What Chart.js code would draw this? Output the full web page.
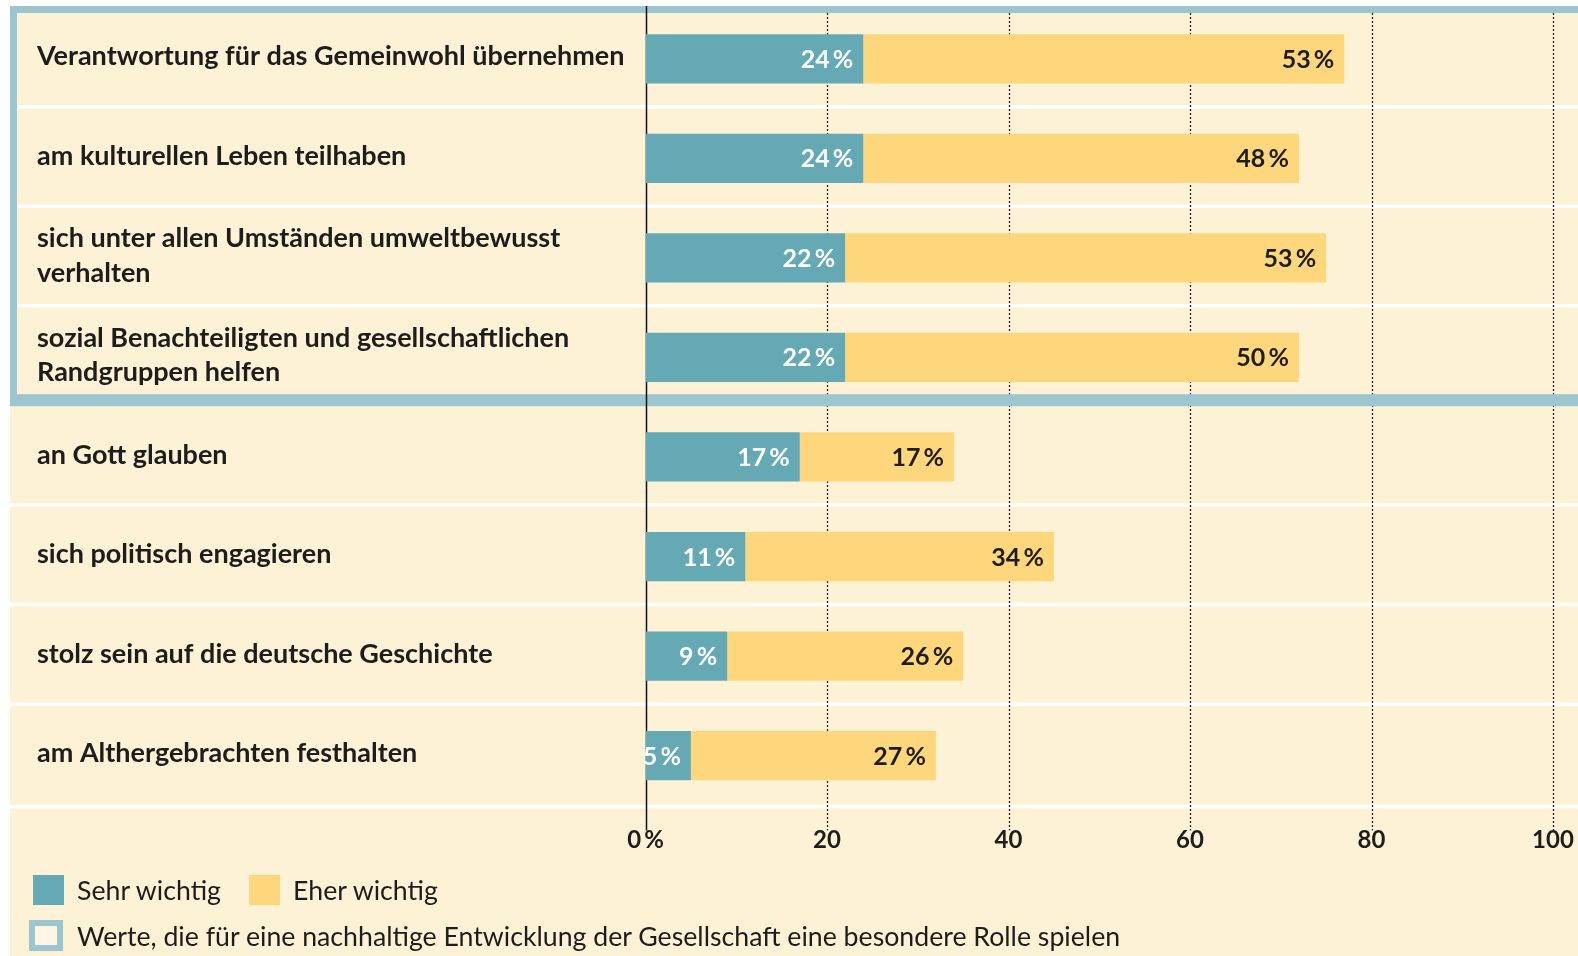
<!DOCTYPE html>
<html lang="de">
<head>
<meta charset="utf-8">
<title>Werte</title>
<script src="https://cdn.jsdelivr.net/npm/chart.js@4.4.1/dist/chart.umd.min.js"></script>
<style>
  html, body { margin: 0; padding: 0; background: #fff; }
  #wrap { position: relative; width: 1578px; height: 956px; overflow: hidden; }
  #chart { position: absolute; left: 0; top: 0; }
  .legend { position: absolute; left: 0; top: 0; font-family: Lato, sans-serif; font-size: 26.7px; color: #1d1d1b; }
  .item { position: absolute; display: flex; align-items: center; white-space: nowrap; }
  .sw { display: inline-block; width: 31px; height: 30px; margin-right: 13px; box-sizing: border-box; }
</style>
</head>
<body>
<div id="wrap">
  <canvas id="chart" width="1578" height="956"></canvas>
  <div class="legend">
    <div class="item" style="left:33px; top:875px; height:30px;"><span class="sw" style="background:#64a9b4"></span>Sehr wichtig</div>
    <div class="item" style="left:249px; top:875px; height:30px;"><span class="sw" style="background:#fed77c"></span>Eher wichtig</div>
    <div class="item" style="left:29px; top:920px; height:31px;"><span class="sw" style="width:34px; height:31px; border:6px solid #9cc6cf; background:#fdf5e3; margin-right:14px;"></span>Werte, die für eine nachhaltige Entwicklung der Gesellschaft eine besondere Rolle spielen</div>
  </div>
</div>
<script>
/* ─── Data ─────────────────────────────────────────────────────────────── */
const categories = [
  'Verantwortung für das Gemeinwohl übernehmen',
  'am kulturellen Leben teilhaben',
  ['sich unter allen Umständen umweltbewusst', 'verhalten'],
  ['sozial Benachteiligten und gesellschaftlichen', 'Randgruppen helfen'],
  'an Gott glauben',
  'sich politisch engagieren',
  'stolz sein auf die deutsche Geschichte',
  'am Althergebrachten festhalten'
];
const sehrWichtig = [24, 24, 22, 22, 17, 11, 9, 5];
const eherWichtig = [53, 48, 53, 50, 17, 34, 26, 27];
const xTicks      = [0, 20, 40, 60, 80, 100];
const framedRows  = 4;   // the first rows sit inside the blue frame

/* ─── Colours ──────────────────────────────────────────────────────────── */
const BLUE   = '#64a9b4';
const YELLOW = '#fed77c';
const CREAM  = '#fdf1d6';
const FRAME  = '#9cc6cf';
const INK    = '#1d1d1b';

Chart.defaults.font.family = 'Lato, sans-serif';

/* ── row backgrounds, separators, blue frame ── */
const backdrop = {
  id: 'backdrop',
  beforeDraw(chart) {
    const { ctx, chartArea: a, scales: { y } } = chart;
    const W = chart.width, H = chart.height;
    ctx.save();
    ctx.fillStyle = '#fff';
    ctx.fillRect(0, 0, W, H);
    ctx.fillStyle = CREAM;
    ctx.fillRect(10, a.top - 3, W - 10, H);

    // white separators between rows
    ctx.fillStyle = '#fff';
    const n = categories.length;
    for (let i = 0; i < n; i++) {
      if (i === framedRows - 1) continue;
      const yb = i === n - 1
        ? a.bottom + 1
        : (y.getPixelForValue(i) + y.getPixelForValue(i + 1)) / 2 - 2;
      ctx.fillRect(10, yb - 1.5, W - 10, 3.5);
    }
    ctx.restore();
  },
  beforeDatasetsDraw(chart) {
    const { ctx, chartArea: a, scales: { x, y } } = chart;
    const W = chart.width;
    ctx.save();

    // dotted grid
    ctx.strokeStyle = '#222';
    ctx.lineWidth = 1.3;
    ctx.setLineDash([2, 2]);
    xTicks.forEach(v => {
      if (v === 0) return;
      const px = Math.round(x.getPixelForValue(v)) + 0.5;
      ctx.beginPath();
      ctx.moveTo(px, a.top + 4);
      ctx.lineTo(px, a.bottom + 25);
      ctx.stroke();
    });
    ctx.setLineDash([]);

    // blue frame round the highlighted rows
    const split = (y.getPixelForValue(framedRows - 1) + y.getPixelForValue(framedRows)) / 2;
    ctx.fillStyle = FRAME;
    ctx.fillRect(10, a.top - 3, W - 10, 7);
    ctx.fillRect(10, a.top - 3, 7, split - a.top);
    ctx.fillRect(10, split - 13, W - 10, 12);

    // solid zero line
    const x0 = Math.round(x.getPixelForValue(0)) + 0.5;
    ctx.strokeStyle = '#111';
    ctx.lineWidth = 1.5;
    ctx.beginPath();
    ctx.moveTo(x0, a.top - 3);
    ctx.lineTo(x0, a.bottom + 25);
    ctx.stroke();
    ctx.restore();
  }
};

/* ── value labels at the end of each segment ── */
const valueLabels = {
  id: 'valueLabels',
  afterDatasetsDraw(chart) {
    const { ctx } = chart;
    ctx.save();
    ctx.font = 'bold 25px Lato, sans-serif';
    ctx.textAlign = 'right';
    ctx.textBaseline = 'middle';
    chart.data.datasets.forEach((ds, di) => {
      const meta = chart.getDatasetMeta(di);
      ctx.fillStyle = di === 0 ? '#fff' : INK;
      meta.data.forEach((bar, i) => {
        ctx.fillText(ds.data[i] + '\u2009%', bar.x - 10, bar.y + 1);
      });
    });
    ctx.restore();
  }
};

new Chart(document.getElementById('chart'), {
  type: 'bar',
  data: {
    labels: categories,
    datasets: [
      { label: 'Sehr wichtig', data: sehrWichtig, backgroundColor: BLUE,   borderWidth: 0 },
      { label: 'Eher wichtig', data: eherWichtig, backgroundColor: YELLOW, borderWidth: 0 }
    ]
  },
  options: {
    indexAxis: 'y',
    responsive: false,
    animation: false,
    devicePixelRatio: 1,
    categoryPercentage: 1,
    barPercentage: 0.495,
    layout: { padding: { left: 37, right: 25, top: 9, bottom: 0 } },
    plugins: {
      legend: { display: false },
      tooltip: { enabled: false }
    },
    scales: {
      x: {
        stacked: true,
        min: 0,
        max: 100,
        afterBuildTicks: s => { s.ticks = xTicks.map(v => ({ value: v })); },
        afterFit: s => { s.height = 150.6; s.paddingLeft = 0; s.paddingRight = 0; },
        grid: { display: false, drawTicks: false },
        border: { display: false },
        ticks: {
          padding: 20,
          color: INK,
          font: { size: 24, weight: 'bold' },
          callback: v => v === 0 ? '0\u2009%' : String(v)
        }
      },
      y: {
        stacked: true,
        afterFit: s => { s.width = 608.5; s.paddingTop = 0; s.paddingBottom = 0; },
        grid: { display: false, drawTicks: false },
        border: { display: false },
        ticks: {
          autoSkip: false,
          crossAlign: 'far',
          labelOffset: -2,
          color: INK,
          font: { size: 27, weight: 'bold', lineHeight: 1.27 }
        }
      }
    }
  },
  plugins: [backdrop, valueLabels]
});
</script>
</body>
</html>
